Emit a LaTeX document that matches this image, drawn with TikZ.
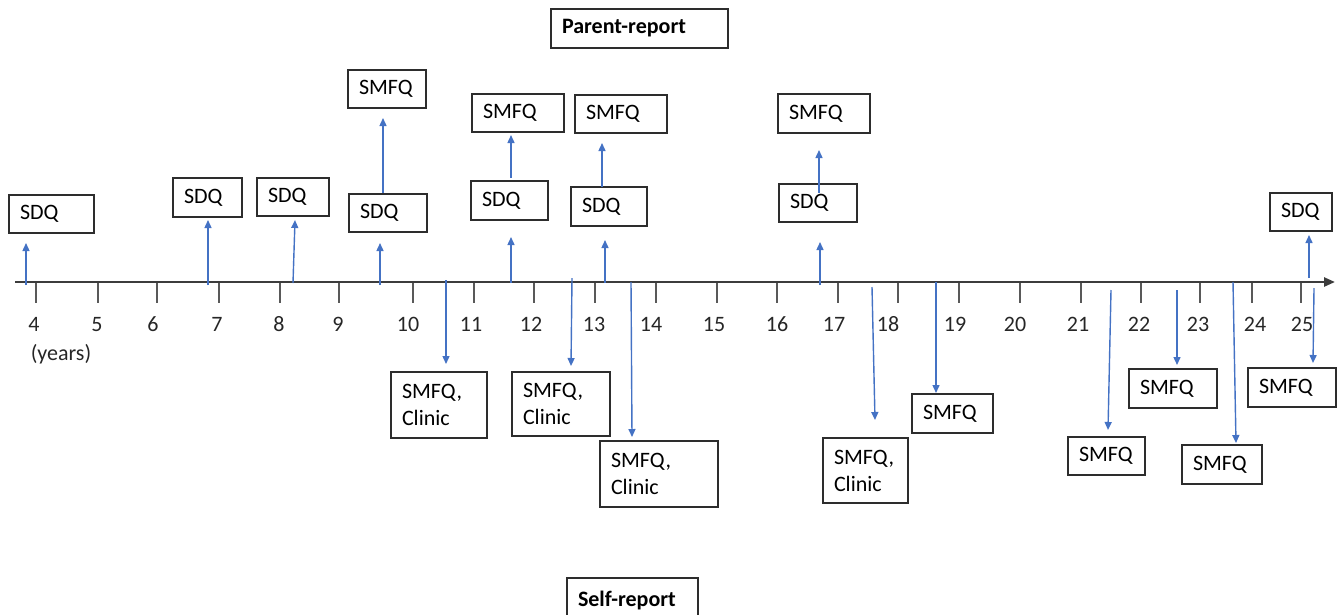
\documentclass[tikz,border=0pt]{standalone}
\usepackage{fontspec}
\setmainfont{Carlito}
\usetikzlibrary{arrows.meta}
\definecolor{arrowblue}{RGB}{68,114,196}
\definecolor{framegray}{RGB}{45,45,45}
\definecolor{axisgray}{RGB}{60,60,60}
\begin{document}
\begin{tikzpicture}[x=1pt,y=-1pt,
  bx/.style={draw=framegray, line width=1.8pt, anchor=north west, outer sep=0pt,
    inner xsep=11pt, inner ysep=0pt, align=left, font=\fontsize{22}{27}\selectfont},
  boldbx/.style={bx, font=\fontsize{22}{27}\selectfont\bfseries},
  axisline/.style={draw=axisgray, line width=2.4pt, -{Triangle[length=11pt,width=9pt]}},
  tickline/.style={draw=axisgray!85, line width=2pt},
  ticklab/.style={anchor=base, inner sep=0pt, font=\fontsize{22}{27}\selectfont, text=black!85},
  bluearrow/.style={draw=arrowblue, line width=1.4pt, -{Triangle[length=8pt,width=7pt]}}
]
\useasboundingbox (0,0) rectangle (1340,614);

% axis
\coordinate (axL) at (15,282);
\coordinate (axR) at (1335,282);
\draw[axisline] (axL) -- (axR);

% ticks
\foreach \x/\n in {36/4,98/5,157/6,219/7,280/8,339/9,413/10,474/11,534/12,595/13,656/14,717/15,777/16,838/17,898/18,959/19,1020/20,1081/21,1141/22,1200/23,1252/24,1301/25}{
  \coordinate (tt\n) at (\x,283);
  \coordinate (tb\n) at (\x,303);
  \draw[tickline] (tt\n) -- (tb\n);
}
% tick labels
\foreach \x/\n in {34/4,97/5,153/6,217/7,279/8,338/9,408/10,471/11,531/12,594/13,651/14,714/15,777/16,834/17,888/18,955/19,1015/20,1078/21,1139/22,1198/23,1255/24,1302/25}{
  \node[ticklab] (lab\n) at (\x,331) {\n};
}
\node[ticklab] (years) at (61,360) {(years)};

% upper boxes
\node[boldbx, text width=155pt, minimum height=39pt] (parent) at (551,9) {Parent-report};
\node[bx, text width=63pt, minimum height=38pt] (sdqA) at (9,195) {SDQ};
\node[bx, text width=47pt, minimum height=39pt] (sdqB) at (173,178) {SDQ};
\node[bx, text width=50pt, minimum height=38pt] (sdqC) at (257,178) {SDQ};
\node[bx, text width=56pt, minimum height=38pt] (sdqD) at (349,194) {SDQ};
\node[bx, text width=56pt, minimum height=38pt] (smfqD) at (348,70) {SMFQ};
\node[bx, text width=70pt, minimum height=38pt] (smfqE) at (472,94) {SMFQ};
\node[bx, text width=70pt, minimum height=38pt] (smfqF) at (575,95) {SMFQ};
\node[bx, text width=70pt, minimum height=39pt] (smfqG) at (778,94) {SMFQ};
\node[bx, text width=55pt, minimum height=39pt] (sdqE) at (471,181) {SDQ};
\node[bx, text width=54pt, minimum height=39pt] (sdqF) at (571,187) {SDQ};
\node[bx, text width=56pt, minimum height=38pt] (sdqG) at (779,184) {SDQ};
\node[bx, text width=40pt, minimum height=38pt] (sdqH) at (1270,193) {SDQ};

% lower boxes
\node[bx, text width=74pt, minimum height=66pt] (clinA) at (391,372) {SMFQ,\\Clinic};
\node[bx, text width=76pt, minimum height=64pt] (clinB) at (512,372) {SMFQ,\\Clinic};
\node[bx, text width=96pt, minimum height=66pt] (clinC) at (600,441) {SMFQ,\\Clinic};
\node[bx, text width=63pt, minimum height=65pt] (clinD) at (823,438) {SMFQ,\\Clinic};
\node[bx, text width=59pt, minimum height=39pt] (smfqH) at (912,394) {SMFQ};
\node[bx, text width=55pt, minimum height=38pt] (smfqI) at (1068,437) {SMFQ};
\node[bx, text width=66pt, minimum height=39pt] (smfqJ) at (1129,369) {SMFQ};
\node[bx, text width=58pt, minimum height=39pt] (smfqK) at (1182,445) {SMFQ};
\node[bx, text width=66pt, minimum height=39pt] (smfqL) at (1248,368) {SMFQ};
\node[boldbx, text width=109pt, minimum height=44pt] (self) at (567,578) {Self-report};

% blue arrows (start/end coordinates)
\foreach \nm/\xa/\ya/\xb/\yb in {
  uA/26/285/26/243, uB/208/285/208/220, uC/293/283/295/220, uD/380/285/380/243,
  uE/383/193/383/118, uF/511/283/511/237, uG/511/178/511/135, uH/605/283/605/240,
  uI/602/187/602/143, uJ/820/285/820/242, uK/819/193/819/150, uL/1309/278/1309/235,
  dA/446/280/446/364, dB/572/278/571/366, dC/631/282/632/437, dD/872/287/875/420,
  dE/936/282/936/393, dF/1111/290/1108/430, dG/1177/290/1177/365, dH/1233/282/1236/443,
  dI/1314/288/1313/363}{
  \coordinate (\nm s) at (\xa,\ya);
  \coordinate (\nm e) at (\xb,\yb);
  \draw[bluearrow] (\nm s) -- (\nm e);
}
\end{tikzpicture}
\end{document}
